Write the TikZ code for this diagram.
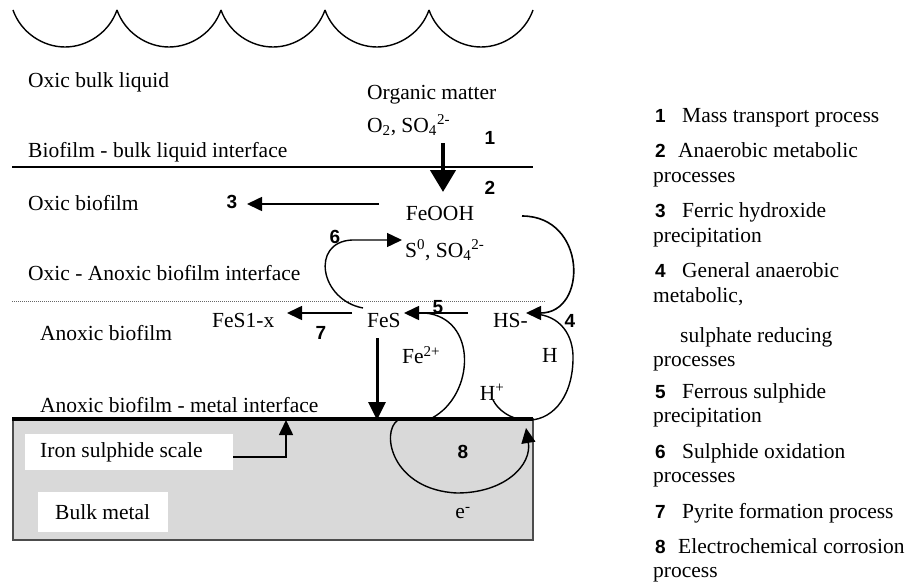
\documentclass[tikz,border=0pt]{standalone}
\usepackage{fontspec}
\setmainfont{Liberation Serif}
\newfontfamily\numfont{Liberation Sans}
\usetikzlibrary{arrows.meta}

\begin{document}
\begin{tikzpicture}[x=1pt,y=-1pt,
    every node/.style={inner sep=0pt},
    txt/.style={anchor=west,font=\fontsize{21.5}{25}\selectfont},
    chem/.style={font=\fontsize{21.5}{25}\selectfont},
    num/.style={font=\numfont\bfseries\fontsize{19}{22}\selectfont},
    leg/.style={anchor=base west,font=\fontsize{21.5}{25}\selectfont},
    legnum/.style={num,anchor=base west},
    flow/.style={line width=1.6pt,-{Triangle[length=15pt,width=14pt]}},
    loopline/.style={line width=1.4pt}]
    \useasboundingbox (0,0) rectangle (909,586);

    % liquid surface
    \foreach \cx in {13,117,221,325,429}
        \draw[loopline] (\cx,10) .. controls ({\cx+7.7},32.2) and ({\cx+29.5},47) .. ({\cx+52},47)
            .. controls ({\cx+74.5},47) and ({\cx+96.3},32.2) .. ({\cx+104},10);

    % metal
    \fill[gray!30] (13,419) rectangle (533,540);
    \draw[line width=1.5pt,black!70] (13,419) rectangle (533,540);
    \draw[line width=4.5pt] (12,419) -- (533,419);
    \fill[white] (25,434) rectangle (233,470);
    \fill[white] (38,492) rectangle (168,532);

    % interfaces
    \draw[line width=1.3pt] (12,167) -- (533,167);
    \draw[line width=0.9pt,black!60,dash pattern=on 1pt off 1pt] (12,301) -- (545,301);

    % zones
    \node[txt] (bulk) at (28,82) {Oxic bulk liquid};
    \node[txt] (bli) at (28,152) {Biofilm - bulk liquid interface};
    \node[txt] (oxb) at (28,203) {Oxic biofilm};
    \node[txt] (oai) at (28,273) {Oxic - Anoxic biofilm interface};
    \node[txt] (anb) at (40,333) {Anoxic biofilm};
    \node[txt] (ami) at (40,405) {Anoxic biofilm - metal interface};
    \node[txt] (scale) at (40,452) {Iron sulphide scale};
    \node[txt] (metal) at (55,512) {Bulk metal};

    % species
    \node[txt] (org) at (367,95) {Organic matter};
    \node[txt] (oxy) at (367,125) {O\textsubscript{2}, SO\textsubscript{4}\textsuperscript{2-}};
    \node[chem] (feooh) at (440,213) {FeOOH};
    \node[txt] (sox) at (405,250) {S\textsuperscript{0}, SO\textsubscript{4}\textsuperscript{2-}};
    \node[txt] (fesx) at (212,320) {FeS1-x};
    \node[txt] (fes) at (367,320) {FeS};
    \node[txt] (hs) at (493,320) {HS-};
    \node[txt] (fe) at (402,355) {Fe\textsuperscript{2+}};
    \node[chem] (h) at (550,355) {H};
    \node[chem] (hp) at (492,392) {H\textsuperscript{+}};
    \node[chem] (el) at (463,513) {e\textsuperscript{-}};

    % process numbers
    \node[num] (n1) at (490,138) {1};
    \node[num] (n2) at (490,188) {2};
    \node[num] (n3) at (232,202) {3};
    \node[num] (n4) at (570,321) {4};
    \node[num] (n5) at (438,307) {5};
    \node[num] (n6) at (335,237) {6};
    \node[num] (n7) at (321,333) {7};
    \node[num] (n8) at (463,452) {8};

    % connector ends
    \coordinate (in) at (443,143);
    \coordinate (down) at (443,192);
    \coordinate (p3a) at (379,204);
    \coordinate (p3b) at (247,204);
    \coordinate (p4a) at (522,216);
    \coordinate (p4b) at (526,313);
    \coordinate (p5a) at (468,313);
    \coordinate (p5b) at (404,313);
    \coordinate (p6a) at (363,308);
    \coordinate (p6b) at (352,240);
    \coordinate (p6c) at (402,240);
    \coordinate (p7a) at (352,313);
    \coordinate (p7b) at (287,313);
    \coordinate (fea) at (432,418);
    \coordinate (feb) at (425,313);
    \coordinate (ha) at (534,314);
    \coordinate (hb) at (493,400);
    \coordinate (p8a) at (398,420);
    \coordinate (p8b) at (526,428);
    \coordinate (sedtop) at (377,338);
    \coordinate (sedbot) at (377,420);
    \coordinate (sca) at (233,457);
    \coordinate (scb) at (286,420);

    % processes
    \draw[line width=4.5pt,-{Triangle[length=22pt,width=25pt]}] (in) -- (down);
    \draw[flow] (p3a) -- (p3b);
    \draw[flow] (p4a) .. controls (587,216) and (588,313) .. (p4b);
    \draw[flow] (p5a) -- (p5b);
    \draw[loopline] (fea) .. controls (475,395) and (478,318) .. (feb);
    \draw[flow,line width=1.4pt] (p6a) .. controls (320,300) and (310,242) .. (p6b) -- (p6c);
    \draw[flow] (p7a) -- (p7b);
    \draw[loopline] (ha) .. controls (560,315) and (574,335) .. (573,360)
        .. controls (572,400) and (550,422) .. (525,420)
        .. controls (510,419) and (498,410) .. (hb);
    \draw[flow,line width=1.4pt] (p8a) .. controls (380,432) and (392,490) .. (457,493)
        .. controls (505,493) and (532,465) .. (p8b);
    \draw[line width=3pt,-{Triangle[length=18pt,width=17pt]}] (sedtop) -- (sedbot);
    \draw[flow] (sca) -| (scb);

    % legend
    \node[legnum] (l1) at (655,122) {1};
    \node[leg] at (682,122) {Mass transport process};
    \node[legnum] (l2) at (655,157) {2};
    \node[leg] at (678,157) {Anaerobic metabolic};
    \node[leg] at (653,182) {processes};
    \node[legnum] (l3) at (655,217) {3};
    \node[leg] at (682,217) {Ferric hydroxide};
    \node[leg] at (653,242) {precipitation};
    \node[legnum] (l4) at (655,277) {4};
    \node[leg] at (682,277) {General anaerobic};
    \node[leg] at (653,302) {metabolic,};
    \node[leg] at (680,342) {sulphate reducing};
    \node[leg] at (653,366) {processes};
    \node[legnum] (l5) at (655,398) {5};
    \node[leg] at (682,398) {Ferrous sulphide};
    \node[leg] at (653,422) {precipitation};
    \node[legnum] (l6) at (655,458) {6};
    \node[leg] at (682,458) {Sulphide oxidation};
    \node[leg] at (653,482) {processes};
    \node[legnum] (l7) at (655,518) {7};
    \node[leg] at (682,518) {Pyrite formation process};
    \node[legnum] (l8) at (655,553) {8};
    \node[leg] at (678,553) {Electrochemical corrosion};
    \node[leg] at (653,577) {process};
\end{tikzpicture}
\end{document}
